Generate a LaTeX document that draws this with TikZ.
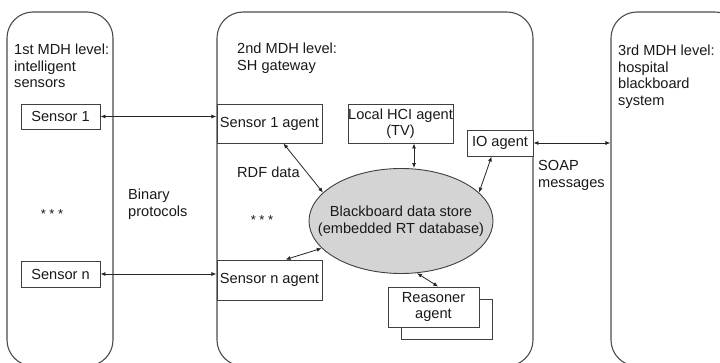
\documentclass[tikz,border=0pt]{standalone}
\usepackage{fontspec}
\setmainfont{Liberation Sans}
\usetikzlibrary{arrows.meta,shapes.geometric,calc}

\begin{document}
\begin{tikzpicture}[x=1pt,y=-1pt,
  every node/.style={text=black!90, font=\fontsize{14.6}{16.5}\selectfont},
  level/.style={draw=black!70, line width=1.1pt, rounded corners=26pt, inner sep=0pt},
  box/.style={draw=black!75, line width=0.9pt, fill=white, inner sep=0pt, align=center},
  store/.style={ellipse, draw=black!75, line width=0.9pt, fill=black!17, inner sep=0pt},
  link/.style={{Latex[length=5pt,width=4pt]}-{Latex[length=5pt,width=4pt]}, line width=0.8pt, draw=black!85},
  lbl/.style={anchor=base west, inner sep=0pt},
  dots/.style={inner sep=0pt, font=\fontsize{13}{14}\selectfont},
]
\useasboundingbox (0,0) rectangle (720,363);
\fill[white] (0,0) rectangle (720,363);
\clip (0,0) rectangle (720,363);

% the three MDH levels
\node[level, minimum width=106pt, minimum height=354pt] (lvl1) at (60,189) {};
\node[level, minimum width=316pt, minimum height=354pt] (lvl2) at (375,189) {};
\node[level, minimum width=130pt, minimum height=354pt] (lvl3) at (676,189) {};

% level titles
\node[lbl] (t1a) at (14,55) {1st MDH level:};
\node[lbl] (t1b) at (14,71.5) {intelligent};
\node[lbl] (t1c) at (14,88) {sensors};
\node[lbl] (t2a) at (237,54) {2nd MDH level:};
\node[lbl] (t2b) at (237,70.5) {SH gateway};
\node[lbl] (t3a) at (618,56) {3rd MDH level:};
\node[lbl] (t3b) at (618,72.5) {hospital};
\node[lbl] (t3c) at (618,89) {blackboard};
\node[lbl] (t3d) at (618,105.5) {system};

% sensors
\node[box, minimum width=79pt, minimum height=25pt] (s1) at (60.5,116.5) {Sensor 1};
\node[box, minimum width=79pt, minimum height=26pt] (sn) at (60.5,274) {Sensor n};
\node[dots] (d1) at (52,214) {* * *};

% gateway agents
\node[box, minimum width=105pt, minimum height=39pt] (s1a) at (269.5,123.5) {Sensor 1 agent};
\node[box, minimum width=105pt, minimum height=40pt] (sna) at (269.5,280) {Sensor n agent};
\node[box, minimum width=105pt, minimum height=39pt] (hci) at (400.5,123.5) {Local HCI agent\\(TV)};
\node[box, minimum width=66pt, minimum height=26pt] (io) at (500,143) {IO agent};
\node[dots] (d2) at (262,220) {* * *};

% blackboard store
\node[store, minimum width=184pt, minimum height=105pt] (bb) at (401,221) {};
\node[align=center, inner sep=0pt] (bbt) at (bb.center)
  {Blackboard data store\\(embedded RT database)};

% reasoner (stacked boxes)
\node[box, minimum width=91pt, minimum height=40pt] (reasb) at (446.5,319) {};
\node[box, minimum width=91pt, minimum height=40pt] (reas) at (433.5,307) {Reasoner\\agent};

% connector labels
\node[lbl] (lb1) at (128,200) {Binary};
\node[lbl] (lb2) at (128,216.5) {protocols};
\node[lbl] (lr) at (237,178) {RDF data};
\node[lbl] (ls1) at (538,171) {SOAP};
\node[lbl] (ls2) at (538,187.5) {messages};

% connectors
\draw[link] (s1.east) -- (s1.east -| lvl2.west);
\draw[link] (sn.east) -- (sn.east -| lvl2.west);
\draw[link] (io.east) -- (io.east -| lvl3.west);
\draw[link] (s1a.-55) -- (bb.160);
\coordinate (hx) at ($(hci.south)+(13.5,0)$);
\draw[link] (hx) -- (hx |- bb.north);
\draw[link] (io.238) -- (bb.20);
\draw[link] (sna.52) -- (bb.199);
\draw[link] (bb.-73) -- (reas.77);
\end{tikzpicture}
\end{document}
